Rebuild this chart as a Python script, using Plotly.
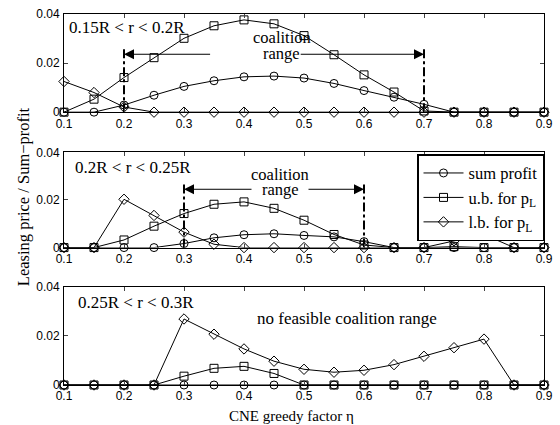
import plotly.graph_objects as go
from plotly.subplots import make_subplots

eta = [0.1, 0.15, 0.2, 0.25, 0.3, 0.35, 0.4, 0.45, 0.5, 0.55, 0.6, 0.65, 0.7, 0.75, 0.8, 0.85, 0.9]

# Panel 1: 0.15R < r < 0.2R
p1_sum = [0, 0, 0.0029, 0.0069, 0.0105, 0.0128, 0.0144, 0.0147, 0.0139, 0.0117, 0.0088, 0.0061, 0.0032, 0, 0, 0, 0]
p1_ub = [0, 0.0053, 0.0141, 0.0222, 0.0301, 0.0352, 0.0376, 0.0360, 0.0312, 0.0234, 0.0152, 0.0082, 0.0005, 0, 0, 0, 0]
p1_lb = [0.0125, 0.0080, 0.0021, 0, 0, 0, 0, 0, 0, 0, 0, 0, 0, 0, 0, 0, 0]

# Panel 2: 0.2R < r < 0.25R
p2_sum = [0, 0, 0, 0, 0.0017, 0.0041, 0.0054, 0.0058, 0.0051, 0.0045, 0.0025, 0, 0, 0, 0, 0, 0]
p2_ub = [0, 0, 0.0032, 0.0090, 0.0143, 0.0182, 0.0192, 0.0165, 0.0115, 0.0055, 0.0011, 0, 0, 0.0004, 0, 0, 0]
p2_lb = [0, 0, 0.0203, 0.0135, 0.0065, 0.0014, 0, 0, 0, 0, 0, 0, 0, 0.0028, 0.0055, 0, 0]

# Panel 3: 0.25R < r < 0.3R
p3_sum = [0] * 17
p3_ub = [0, 0, 0, 0, 0.0036, 0.0068, 0.0076, 0.0047, 0, 0, 0, 0, 0, 0, 0, 0, 0]
p3_lb = [0, 0, 0, 0, 0.0269, 0.0207, 0.0147, 0.0097, 0.0064, 0.0052, 0.0060, 0.0083, 0.0117, 0.0152, 0.0187, 0, 0]

panels = [
    (p1_sum, p1_ub, p1_lb),
    (p2_sum, p2_ub, p2_lb),
    (p3_sum, p3_ub, p3_lb),
]
panel_labels = ["0.15R < r < 0.2R", "0.2R < r < 0.25R", "0.25R < r < 0.3R"]
ranges = [(0.2, 0.7), (0.3, 0.6)]
series_names = ["sum profit", "u.b. for p<sub>L</sub>", "l.b. for p<sub>L</sub>"]
symbols = ["circle-open", "square-open", "diamond-open"]
x_ticks = [0.1, 0.2, 0.3, 0.4, 0.5, 0.6, 0.7, 0.8, 0.9]
x_ticktext = ["0.1", "0.2", "0.3", "0.4", "0.5", "0.6", "0.7", "0.8", "0.9"]
y_ticks = [0, 0.02, 0.04]
y_ticktext = ["0", "0.02", "0.04"]

fig = make_subplots(rows=3, cols=1)

serif = "Liberation Serif"
sans = "Liberation Sans"

for i, data in enumerate(panels):
    for j, vals in enumerate(data):
        fig.add_trace(go.Scatter(
            x=eta, y=vals, mode="lines+markers", name=series_names[j],
            line=dict(color="black", width=1),
            marker=dict(symbol=symbols[j], size=8, color="black", line=dict(width=1, color="black")),
            showlegend=(i == 0), cliponaxis=False,
        ), row=i + 1, col=1)

domains = [(0.7354, 1.0), (0.3704, 0.627), (0.0, 0.2646)]
for i in range(3):
    ax = "" if i == 0 else str(i + 1)
    fig.layout[f"xaxis{ax}"].update(
        range=[0.1, 0.9], tickvals=x_ticks, ticktext=x_ticktext,
        ticks="inside", ticklen=4, mirror="ticks", showline=True, linecolor="black", linewidth=1,
        showgrid=False, zeroline=False, tickfont=dict(family=sans, size=12, color="black"),
        domain=[0, 1], ticklabelstandoff=0,
    )
    fig.layout[f"yaxis{ax}"].update(
        range=[0, 0.04], tickvals=y_ticks, ticktext=y_ticktext,
        ticks="inside", ticklen=4, mirror="ticks", showline=True, linecolor="black", linewidth=1,
        showgrid=False, zeroline=False, tickfont=dict(family=sans, size=12, color="black"),
        domain=list(domains[i]), ticklabelstandoff=1,
    )

# Panel labels
label_pos = [(0.1 + (67 - 64) / 600, 0.0347), (0.1 + (73 - 64) / 600, 0.0335), (0.1 + (76 - 64) / 600, 0.0335)]
for i, t in enumerate(panel_labels):
    ax = "" if i == 0 else str(i + 1)
    fig.add_annotation(x=label_pos[i][0], y=label_pos[i][1], xref=f"x{ax}", yref=f"y{ax}",
                       text=t, showarrow=False, xanchor="left", yanchor="middle",
                       font=dict(family=serif, size=17, color="black"))

# Coalition ranges: dash-dot lines and arrows
vtops = [0.0258, 0.0276]
arrow_y = [0.0236, 0.0245]
arrow_start = [(0.346, 0.492), (0.415, 0.505)]
text_x = [0.463, 0.46]
text_y = [(0.0305, 0.0238), (0.0305, 0.0242)]
for i, (lo, hi) in enumerate(ranges):
    ax = "" if i == 0 else str(i + 1)
    for xv in (lo, hi):
        fig.add_trace(go.Scatter(x=[xv, xv], y=[0, vtops[i]], mode="lines",
                                 line=dict(color="black", width=2, dash="dashdot"),
                                 showlegend=False, hoverinfo="skip"), row=i + 1, col=1)
    fig.add_annotation(x=lo, y=arrow_y[i], ax=arrow_start[i][0], ay=arrow_y[i],
                       xref=f"x{ax}", yref=f"y{ax}", axref=f"x{ax}", ayref=f"y{ax}",
                       showarrow=True, arrowhead=2, arrowsize=2, arrowwidth=1, arrowcolor="black", text="")
    fig.add_annotation(x=hi, y=arrow_y[i], ax=arrow_start[i][1], ay=arrow_y[i],
                       xref=f"x{ax}", yref=f"y{ax}", axref=f"x{ax}", ayref=f"y{ax}",
                       showarrow=True, arrowhead=2, arrowsize=2, arrowwidth=1, arrowcolor="black", text="")
    fig.add_annotation(x=text_x[i], y=text_y[i][0], xref=f"x{ax}", yref=f"y{ax}", text="coalition",
                       showarrow=False, font=dict(family=serif, size=16.5, color="black"))
    fig.add_annotation(x=text_x[i], y=text_y[i][1], xref=f"x{ax}", yref=f"y{ax}", text="range",
                       showarrow=False, font=dict(family=serif, size=16.5, color="black"))

fig.add_annotation(x=0.572, y=0.027, xref="x3", yref="y3", text="no feasible coalition range",
                   showarrow=False, font=dict(family=serif, size=17, color="black"))

# Axis titles
fig.add_annotation(x=0.474, y=-0.084, xref="paper", yref="paper", text="CNE greedy factor η",
                   showarrow=False, yanchor="middle", font=dict(family=serif, size=15, color="black"))
fig.add_annotation(x=-0.108, y=0.508, xref="paper", yref="paper", text="Leasing price / Sum−profit",
                   showarrow=False, textangle=-90, font=dict(family=serif, size=16.5, color="black"))

fig.update_layout(
    width=560, height=425,
    margin=dict(l=64, r=16, t=7, b=40),
    plot_bgcolor="white", paper_bgcolor="white",
    legend=dict(x=1.0, y=0.622, xanchor="right", yanchor="top", xref="paper", yref="paper",
                bgcolor="white", bordercolor="black", borderwidth=1.5, itemwidth=40,
                font=dict(family=serif, size=16.5, color="black"), tracegroupgap=0),
    showlegend=True,
)

fig.write_html("out.html", config={"displayModeBar": False},
               post_script="document.body.style.margin='0';document.body.style.overflow='hidden';")
